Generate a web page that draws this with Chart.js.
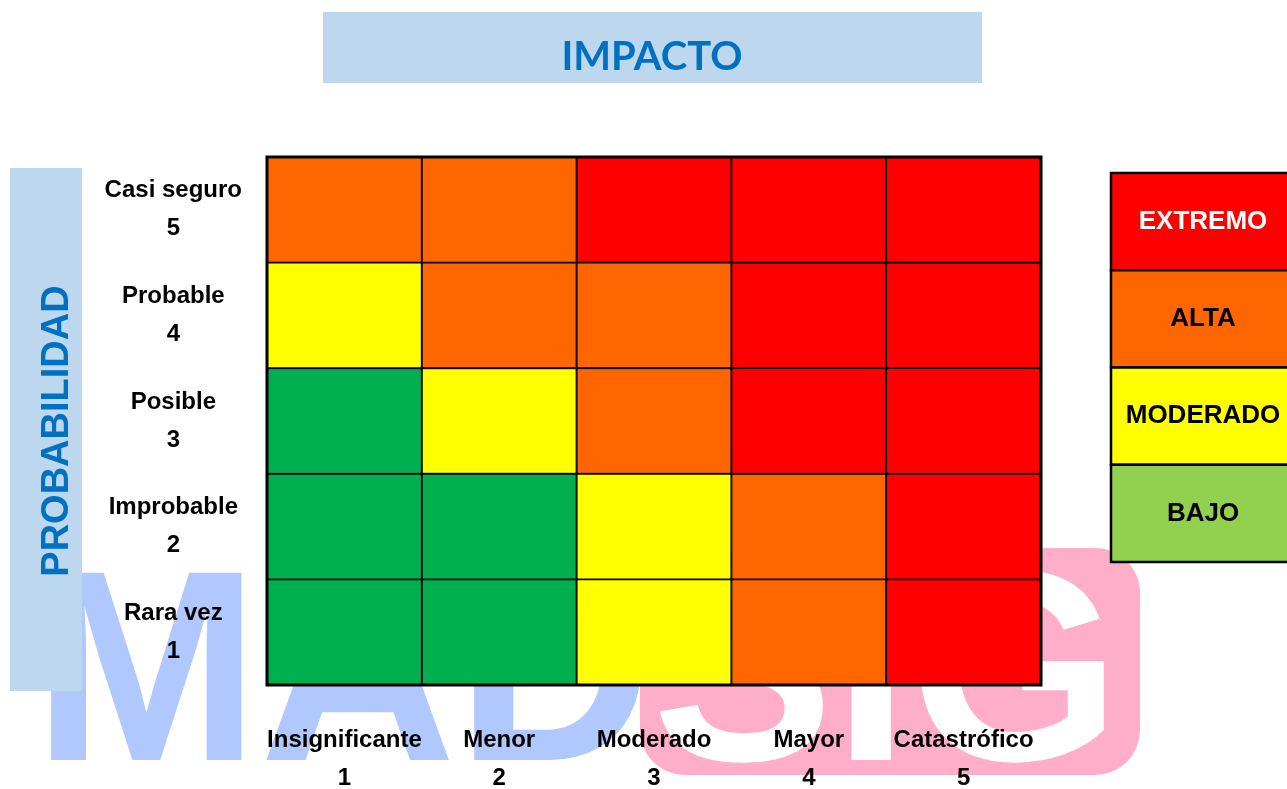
<!DOCTYPE html>
<html>
<head>
<meta charset="utf-8">
<script src="https://cdn.jsdelivr.net/npm/chart.js@4/dist/chart.umd.min.js"></script>
<style>
    html, body { margin: 0; padding: 0; background: #fff; }
    #wrap { width: 1287px; height: 789px; position: relative; }
</style>
</head>
<body>
<div id="wrap"><canvas id="matriz"></canvas></div>
<script>
// filas de arriba (5) hacia abajo (1)
const probabilidad = ['Casi seguro', 'Probable', 'Posible', 'Improbable', 'Rara vez'];
const probValor = ['5', '4', '3', '2', '1'];
const impacto = ['Insignificante', 'Menor', 'Moderado', 'Mayor', 'Catastrófico'];
const impValor = ['1', '2', '3', '4', '5'];
const matriz = [
    ['ALTA', 'ALTA', 'EXTREMO', 'EXTREMO', 'EXTREMO'],
    ['MODERADO', 'ALTA', 'ALTA', 'EXTREMO', 'EXTREMO'],
    ['BAJO', 'MODERADO', 'ALTA', 'EXTREMO', 'EXTREMO'],
    ['BAJO', 'BAJO', 'MODERADO', 'ALTA', 'EXTREMO'],
    ['BAJO', 'BAJO', 'MODERADO', 'ALTA', 'EXTREMO']
];
const niveles = ['EXTREMO', 'ALTA', 'MODERADO', 'BAJO'];
const colorCelda = { EXTREMO: '#FF0000', ALTA: '#FF6600', MODERADO: '#FFFF00', BAJO: '#00B050' };
const colorLeyenda = ['#FF0000', '#FF6600', '#FFFF00', '#92D050'];
const textoLeyenda = ['#FFFFFF', '#000000', '#000000', '#000000'];

const sans = "'Liberation Sans', Arial, sans-serif";

// marca de agua de fondo + cajas de titulo y leyenda
const fondo = {
    id: 'fondo',
    beforeDraw(chart) {
        const ctx = chart.ctx;
        ctx.save();
        ctx.fillStyle = '#fff';
        ctx.fillRect(0, 0, chart.width, chart.height);
        ctx.font = 'bold 272px ' + sans;
        ctx.textAlign = 'left';
        ctx.textBaseline = 'alphabetic';
        ctx.fillStyle = '#B0C8FE';
        ctx.fillText('MAD', 33, 760);
        ctx.fillStyle = '#FFAEC9';
        ctx.beginPath();
        ctx.roundRect(640, 548, 500, 227, 45);
        ctx.fill();
        ctx.fillStyle = '#fff';
        ctx.fillText('SIG', 652, 760);
        ctx.restore();
    },
    afterDatasetsDraw(chart) {
        const a = chart.chartArea, ctx = chart.ctx;
        ctx.save();
        ctx.lineWidth = 3;
        ctx.strokeStyle = '#000';
        ctx.strokeRect(a.left, a.top, a.right - a.left, a.bottom - a.top);
        ctx.restore();
    },
    afterDraw(chart) {
        const ctx = chart.ctx;
        ctx.save();
        // titulo
        ctx.fillStyle = '#BDD7EE';
        ctx.fillRect(323, 12, 659, 71);
        ctx.fillStyle = '#0070C0';
        ctx.font = "bold 40px Lato, 'Open Sans', sans-serif";
        ctx.textAlign = 'center';
        ctx.textBaseline = 'alphabetic';
        ctx.fillText('IMPACTO', 652, 70);
        // eje vertical
        ctx.fillStyle = '#BDD7EE';
        ctx.fillRect(10, 168, 72, 523);
        ctx.translate(68, 431);
        ctx.rotate(-Math.PI / 2);
        ctx.fillStyle = '#0070C0';
        ctx.font = 'bold 38px ' + sans;
        ctx.fillText('PROBABILIDAD', 0, 0);
        ctx.setTransform(1, 0, 0, 1, 0, 0);
        // leyenda
        const top = 173, h = 97.25;
        niveles.forEach((n, i) => {
            const y = top + i * h;
            ctx.fillStyle = colorLeyenda[i];
            ctx.fillRect(1111, y, 184, h);
            ctx.lineWidth = 2.5;
            ctx.strokeStyle = '#000';
            ctx.strokeRect(1111, y, 184, h);
            ctx.fillStyle = textoLeyenda[i];
            ctx.font = 'bold 26px ' + sans;
            ctx.textBaseline = 'middle';
            ctx.fillText(n, 1203, y + h / 2);
        });
        ctx.restore();
    }
};

const tickFont = { family: sans, weight: 'bold', size: 24, lineHeight: 1.58 };

new Chart(document.getElementById('matriz'), {
    type: 'bar',
    data: {
        labels: probabilidad.map((p, i) => [p, probValor[i]]),
        datasets: impacto.map((imp, j) => ({
            label: imp,
            data: probabilidad.map(() => 1),
            backgroundColor: matriz.map(fila => colorCelda[fila[j]]),
            borderColor: '#000',
            borderWidth: 1.3,
            borderSkipped: false,
            barPercentage: 1,
            categoryPercentage: 1,
            xAxisID: 'x'
        }))
    },
    options: {
        indexAxis: 'y',
        responsive: true,
        maintainAspectRatio: false,
        animation: false,
        layout: { padding: { top: 157, right: 246, left: 0, bottom: 0 } },
        plugins: {
            legend: { display: false },
            tooltip: { enabled: false }
        },
        scales: {
            x: { type: 'linear', stacked: true, min: 0, max: 5, display: false },
            x2: {
                type: 'category',
                labels: impacto.map((t, i) => [t, impValor[i]]),
                position: 'bottom',
                offset: true,
                grid: { display: false, drawTicks: false },
                border: { display: false },
                ticks: { font: tickFont, color: '#000', padding: 36, maxRotation: 0, autoSkip: false },
                afterFit: s => { s.height = 104; }
            },
            y: {
                stacked: true,
                grid: { display: false, drawTicks: false },
                border: { display: false },
                ticks: { font: tickFont, color: '#000', padding: 25, crossAlign: 'center', autoSkip: false },
                afterFit: s => { s.width = 267; }
            }
        }
    },
    plugins: [fondo]
});
</script>
</body>
</html>
